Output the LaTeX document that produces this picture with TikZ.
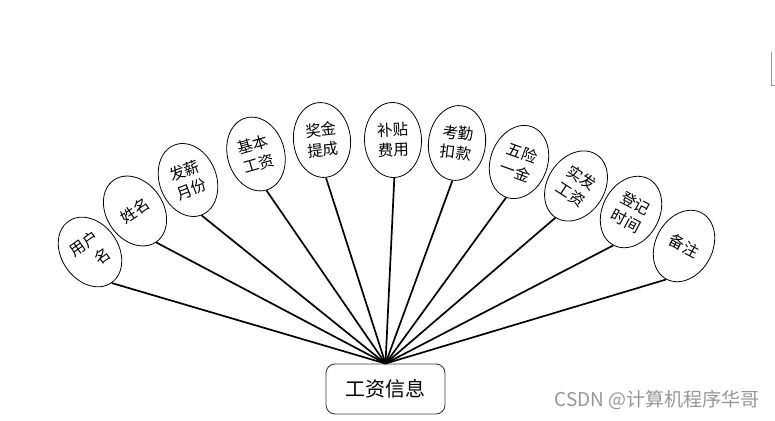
\documentclass[tikz,border=0pt]{standalone}
\usepackage{fontspec}
\newfontfamily\cjk{Noto Sans CJK SC}
\usetikzlibrary{shapes.geometric}
\definecolor{wmgray}{RGB}{150,150,150}
\definecolor{boxline}{RGB}{60,60,60}
\tikzset{
  attr/.style={ellipse, draw=black, line width=0.8pt, minimum width=57pt, minimum height=75pt,
    inner sep=0pt, align=center, font=\cjk\fontsize{15.5}{20}\selectfont},
  link/.style={draw=black, line width=1.7pt},
  entity/.style={draw=boxline, line width=0.9pt, rounded corners=9pt, minimum width=119pt,
    minimum height=50pt, font=\cjk\fontsize{20}{24}\selectfont}
}
\begin{document}
\begin{tikzpicture}[x=1pt,y=1pt]
\useasboundingbox (0,0) rectangle (775,420);
\node[entity] (box) at (385.5,31) {工资信息};
\node[attr, rotate=35, align=right] (e1) at (90,168) {用户\\名};
\node[attr, rotate=34] (e2) at (135,209) {姓名};
\node[attr, rotate=21] (e3) at (188,240) {发薪\\月份};
\node[attr, rotate=16] (e4) at (256,266) {基本\\工资};
\node[attr, rotate=6] (e5) at (322,280) {奖金\\提成};
\node[attr, rotate=2] (e6) at (393,280) {补贴\\费用};
\node[attr, rotate=-7] (e7) at (457,277) {考勤\\扣款};
\node[attr, rotate=-20] (e8) at (519,258) {五险\\一金};
\node[attr, rotate=-33] (e9) at (576,234) {实发\\工资};
\node[attr, rotate=-28] (e10) at (631,208) {登记\\时间};
\node[attr, rotate=-28] (e11) at (684,174) {备注};
\foreach \i in {1,...,11} \draw[link] (e\i.south) -- (box.north);
\node[text=wmgray, font=\cjk\fontsize{19}{21}\selectfont, anchor=east] (wm) at (763,20) {CSDN @计算机程序华哥};
\coordinate (f1) at (771,368);
\coordinate (f2) at (771,335);
\coordinate (f3) at (775,335);
\draw[wmgray, line width=0.8pt] (f1) -- (f2) -- (f3);
\end{tikzpicture}
\end{document}
